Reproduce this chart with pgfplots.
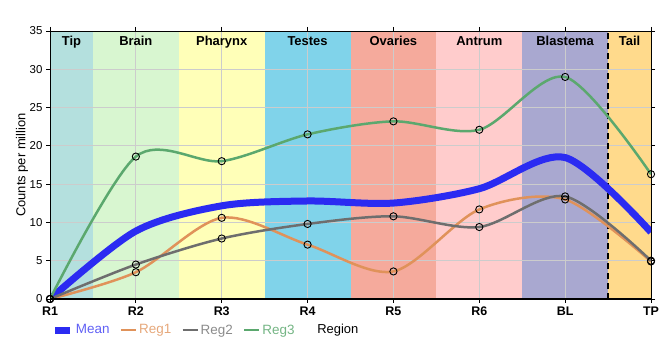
\documentclass[border=0pt]{standalone}
\usepackage{pgfplots}
\pgfplotsset{compat=1.18}
\usepackage{fontspec}
\setmainfont{Liberation Sans}
\definecolor{cTip}{HTML}{B4E0DE}
\definecolor{cBrain}{HTML}{D8F6D0}
\definecolor{cPhar}{HTML}{FFFFB8}
\definecolor{cTest}{HTML}{80D3EA}
\definecolor{cOva}{HTML}{F5AA9C}
\definecolor{cAnt}{HTML}{FFCCCC}
\definecolor{cBla}{HTML}{A9A8D0}
\definecolor{cTail}{HTML}{FFDA8C}
\definecolor{cMean}{HTML}{2B2BF2}
\definecolor{cReg1}{HTML}{E0925A}
\definecolor{cReg2}{HTML}{6E6E6E}
\definecolor{cReg3}{HTML}{5BA86E}
\begin{document}
\begin{tikzpicture}
\begin{axis}[
  set layers,
  scale only axis, width=601bp, height=268bp,
  xmin=0, xmax=7, ymin=0, ymax=35,
  xtick={0,1,2,3,4,5,6,7},
  xticklabels={R1,R2,R3,R4,R5,R6,BL,TP},
  ytick={0,5,10,15,20,25,30,35},
  grid=major,
  major grid style={color=black!20, line width=0.8bp},
  tick align=outside, major tick length=4bp,
  tick style={black, line width=0.8bp},
  axis line style={black, line width=0.8bp},
  x tick label style={font=\fontsize{12.5}{14}\selectfont\bfseries},
  y tick label style={font=\fontsize{11.5}{13}\selectfont},
  /pgf/number format/assume math mode=true,
  xlabel={Region},
  xlabel style={at={(axis description cs:0.479,-0.116)}, anchor=center, font=\fontsize{13}{15}\selectfont},
  ylabel={Counts per million},
  ylabel style={at={(axis description cs:-0.0466,0.5)}, anchor=center, font=\fontsize{13}{15}\selectfont},
  legend style={at={(axis description cs:-0.002,-0.116)}, anchor=west, draw=none, fill=none,
    font=\fontsize{13.5}{15}\selectfont, legend columns=4,
    /tikz/every even column/.append style={column sep=8bp}},
  legend image code/.code={\draw[#1] (0bp,0bp) -- (15bp,0bp);},
  mark options={solid, draw=black, fill=none, line width=0.9bp},
  mark size=3.6bp,
]
% region backgrounds
\begin{pgfonlayer}{axis background}
\fill[cTip] (axis cs:0,0) rectangle (axis cs:0.5,35);
\fill[cBrain] (axis cs:0.5,0) rectangle (axis cs:1.5,35);
\fill[cPhar] (axis cs:1.5,0) rectangle (axis cs:2.5,35);
\fill[cTest] (axis cs:2.5,0) rectangle (axis cs:3.5,35);
\fill[cOva] (axis cs:3.5,0) rectangle (axis cs:4.5,35);
\fill[cAnt] (axis cs:4.5,0) rectangle (axis cs:5.5,35);
\fill[cBla] (axis cs:5.5,0) rectangle (axis cs:6.5,35);
\fill[cTail] (axis cs:6.5,0) rectangle (axis cs:7,35);
\end{pgfonlayer}
\addplot[black, line width=2.4bp, dash pattern=on 6bp off 4bp, forget plot] coordinates {(6.5,0)(6.5,35)};
% series
\addplot[cMean, line width=7bp, smooth, mark=none] coordinates {
 (0,0)(1,8.87)(2,12.17)(3,12.8)(4,12.53)(5,14.4)(6,18.47)(7,8.73)};
\addlegendentry{\textcolor{cMean!75!white}{Mean}}
\addplot[cReg1, line width=2.5bp, smooth, mark=o] coordinates {
 (0,0)(1,3.5)(2,10.6)(3,7.1)(4,3.6)(5,11.7)(6,13.0)(7,4.9)};
\addlegendentry{\textcolor{cReg1!80!white}{Reg1}}
\addplot[cReg2, line width=2.5bp, smooth, mark=o] coordinates {
 (0,0)(1,4.5)(2,7.9)(3,9.8)(4,10.8)(5,9.4)(6,13.4)(7,5.0)};
\addlegendentry{\textcolor{cReg2!80!white}{Reg2}}
\addplot[cReg3, line width=2.5bp, smooth, mark=o] coordinates {
 (0,0)(1,18.6)(2,18.0)(3,21.5)(4,23.2)(5,22.1)(6,29.0)(7,16.3)};
\addlegendentry{\textcolor{cReg3!85!white}{Reg3}}
% region labels
\begin{scope}[font=\fontsize{13}{15}\selectfont\bfseries]
\node[anchor=north] at (axis cs:0.25,35) [yshift=-2bp] {Tip};
\node[anchor=north] at (axis cs:1,35) [yshift=-2bp] {Brain};
\node[anchor=north] at (axis cs:2,35) [yshift=-2bp] {Pharynx};
\node[anchor=north] at (axis cs:3,35) [yshift=-2bp] {Testes};
\node[anchor=north] at (axis cs:4,35) [yshift=-2bp] {Ovaries};
\node[anchor=north] at (axis cs:5,35) [yshift=-2bp] {Antrum};
\node[anchor=north] at (axis cs:6,35) [yshift=-2bp] {Blastema};
\node[anchor=north] at (axis cs:6.75,35) [yshift=-2bp] {Tail};
\end{scope}
\draw[black, line width=2.6bp] (rel axis cs:0,1) -- (rel axis cs:0,0) -- (rel axis cs:1,0);
\node[font=\fontsize{12.5}{15}\selectfont\bfseries] at (axis description cs:0.466,1.078) {MligTC455\_16905 (Mlig455\_021811)};
\end{axis}
\pgfresetboundingbox
\path[use as bounding box] (-50bp,-61bp) rectangle (610bp,299bp);
\end{tikzpicture}
\end{document}
